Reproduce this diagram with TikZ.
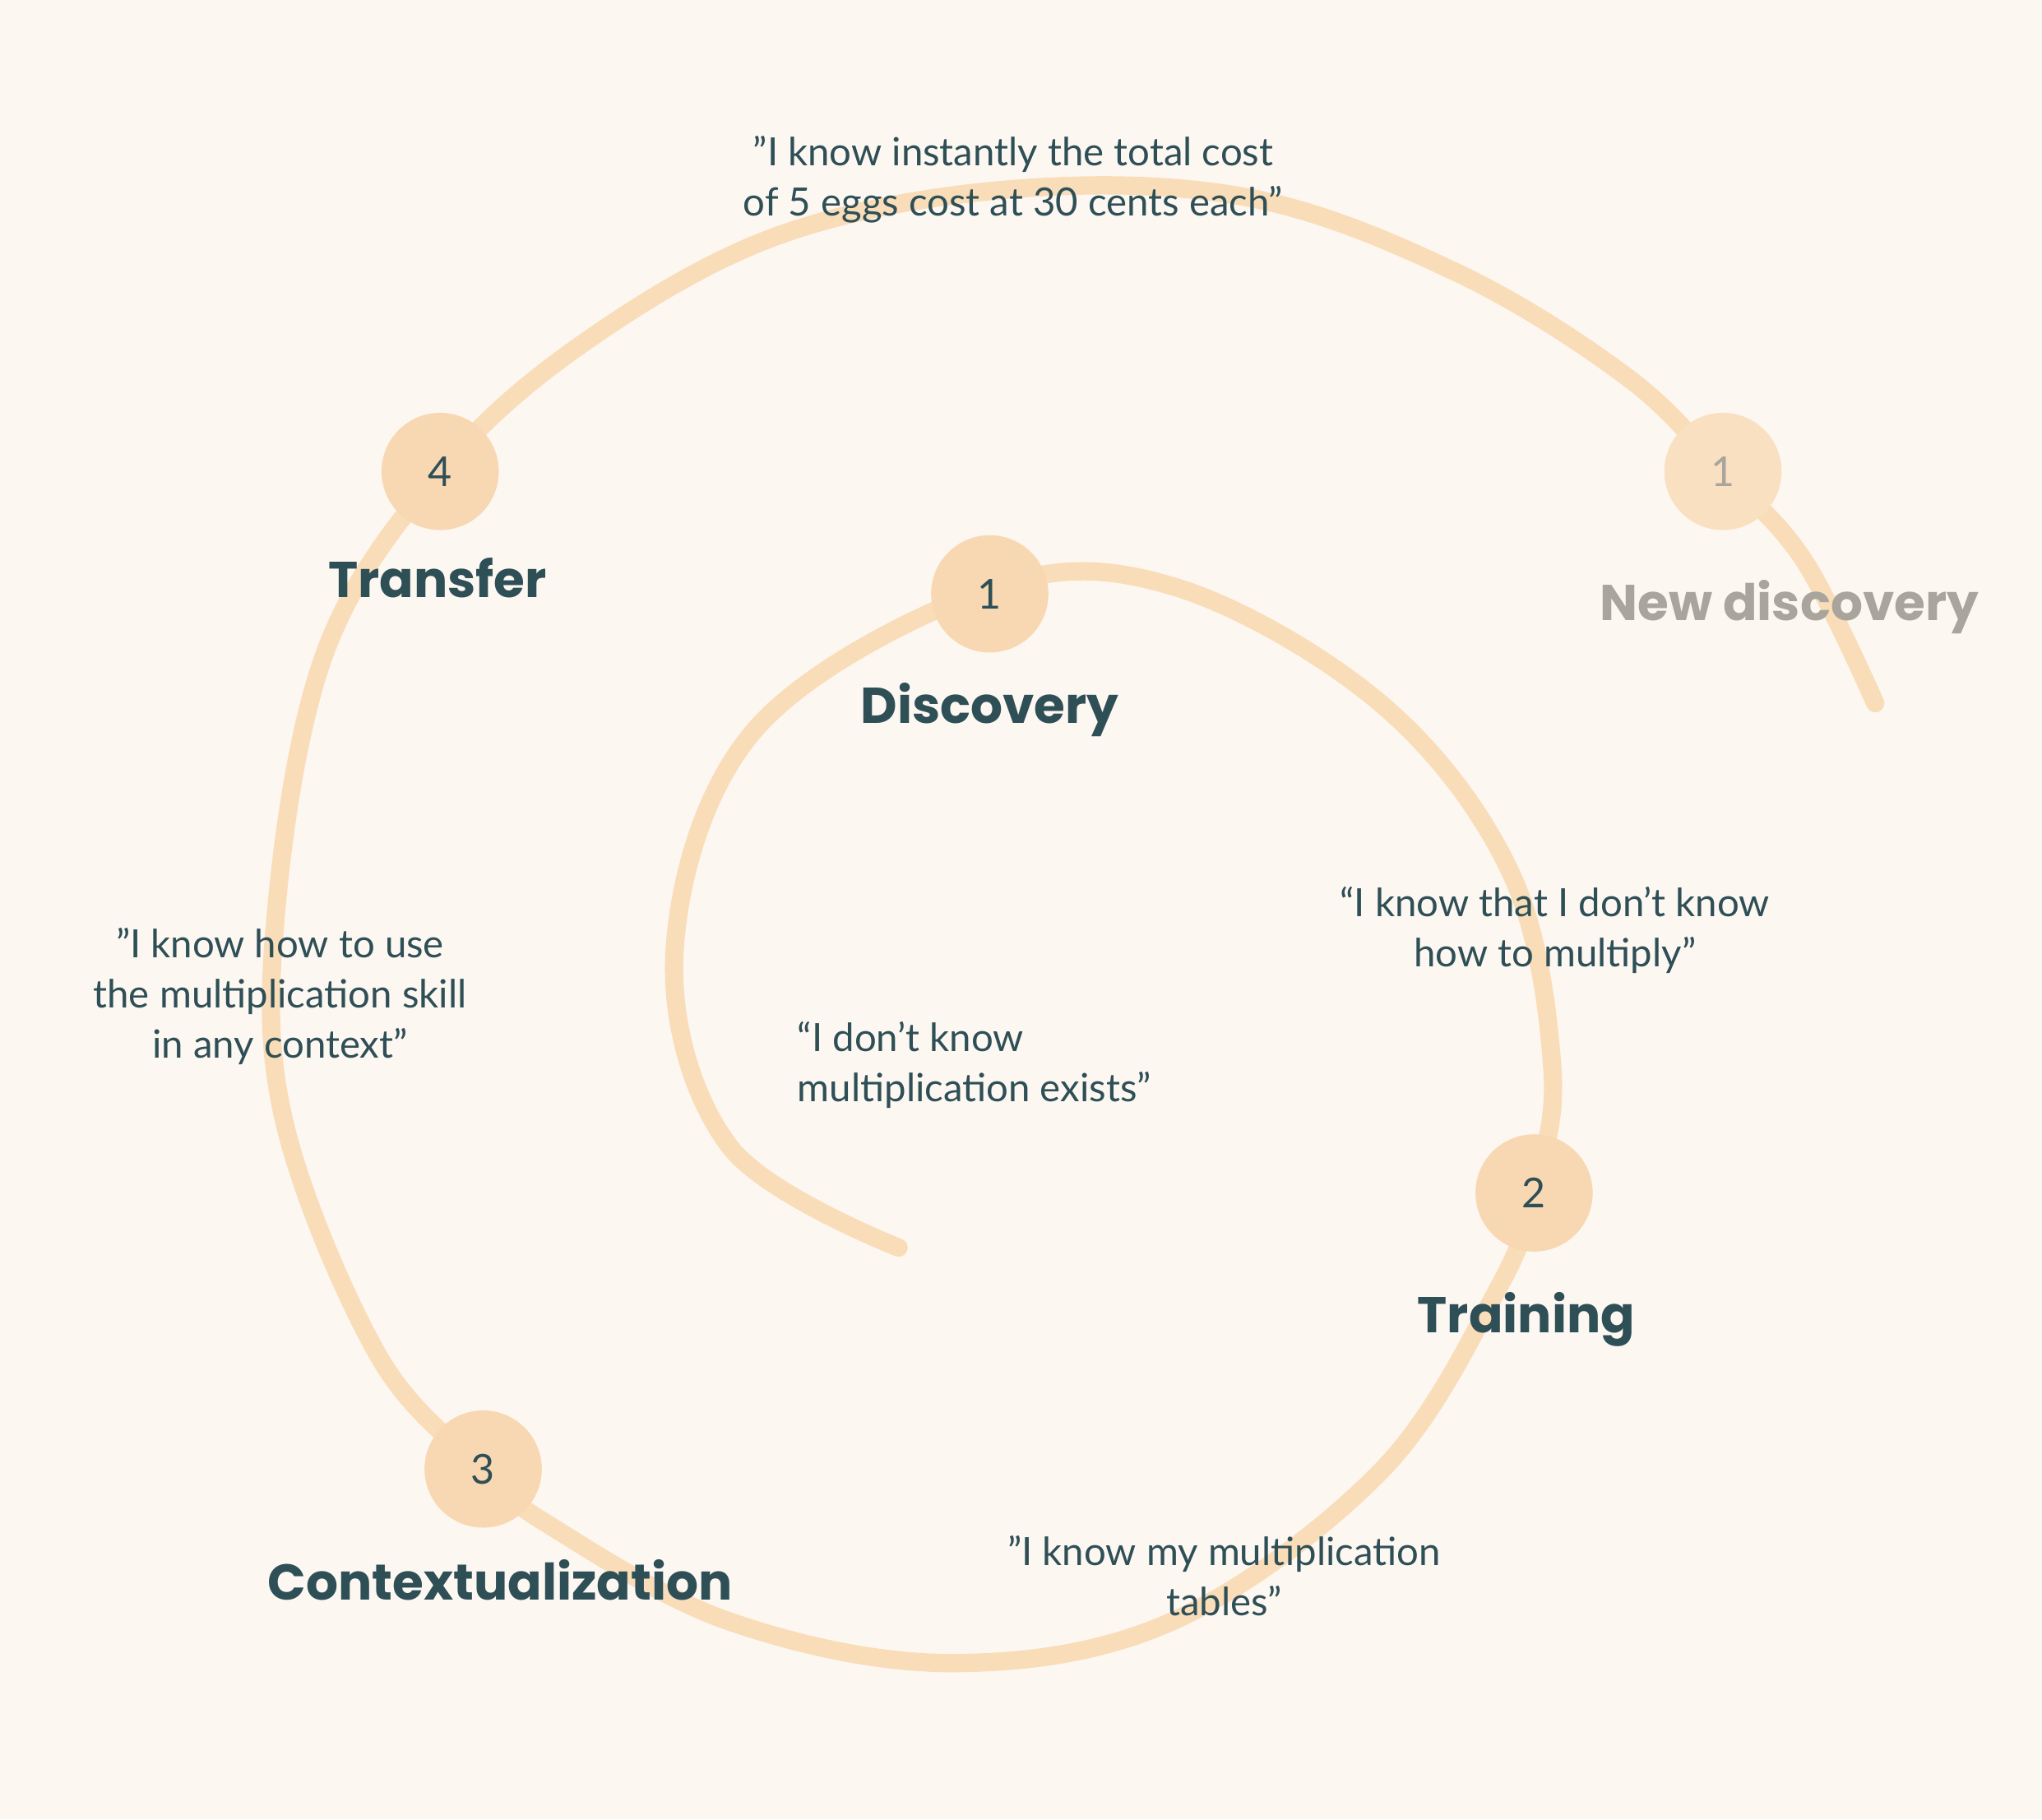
\documentclass[tikz,border=0pt]{standalone}
\usepackage{fontspec}
\setmainfont{Lato}
\newfontfamily\headfont{Poppins}
\definecolor{bg}{HTML}{FDF7F2}
\definecolor{peach}{HTML}{F9DDB9}
\definecolor{dot}{HTML}{F8D8B2}
\definecolor{ink}{HTML}{2F4F56}
\definecolor{fade}{HTML}{A9A59D}
\tikzset{
 num/.style={circle,fill=dot,minimum size=0.9cm,inner sep=0pt,text=ink,font=\fontsize{9}{10}\selectfont},
 head/.style={text=ink,font=\headfont\fontsize{11}{12}\selectfont\bfseries},
 quote/.style={text=ink,font=\fontsize{8.5}{11}\selectfont,align=center},
 spiral/.style={draw=peach,line width=4pt,line cap=round}
}
\begin{document}
\begin{tikzpicture}[x=0.01cm,y=-0.01cm]
\fill[bg] (0,0) rectangle (1568,1397);
\useasboundingbox (0,0) rectangle (1568,1397);
\draw[spiral] plot[smooth,tension=0.6] coordinates {(690,958) (560,880) (518,730) (580,560) (760,452) (900,450) (1060,540) (1160,670) (1192,820) (1178,915) (1150,990) (1060,1130) (900,1245) (730,1277) (560,1245) (420,1170) (370,1128) (290,1040) (218,860) (212,700) (250,500) (338,362) (450,262) (600,180) (780,145) (960,152) (1120,210) (1250,290) (1323,362) (1385,430) (1440,540)};
\node[num] (n1) at (760,456) {1};
\node[num] (n2) at (1178,916) {2};
\node[num] (n3) at (371,1128) {3};
\node[num] (n4) at (338,362) {4};
\node[num,fill=dot!80,text=fade] (n5) at (1323,362) {1};
\node[head] (discovery) at (760,545) {Discovery};
\node[head] (training) at (1172,1013) {Training};
\node[head] (context) at (384,1213) {Contextualization};
\node[head] (transfer) at (336,444) {Transfer};
\node[head,text=fade] (newdisc) at (1374,466) {New discovery};
\node[quote,align=left,anchor=west] (q1) at (600,818) {“I don't know\\multiplication exists”};
\node[quote] (q2) at (1194,714) {“I know that I don't know\\how to multiply”};
\node[quote] (q3) at (940,1210) {"I know my multiplication\\tables”};
\node[quote] (q4) at (215,765) {"I know how to use\\the multiplication skill\\in any context"};
\node[quote] (q5) at (778,138) {"I know instantly the total cost\\of 5 eggs cost at 30 cents each"};
\end{tikzpicture}
\end{document}
